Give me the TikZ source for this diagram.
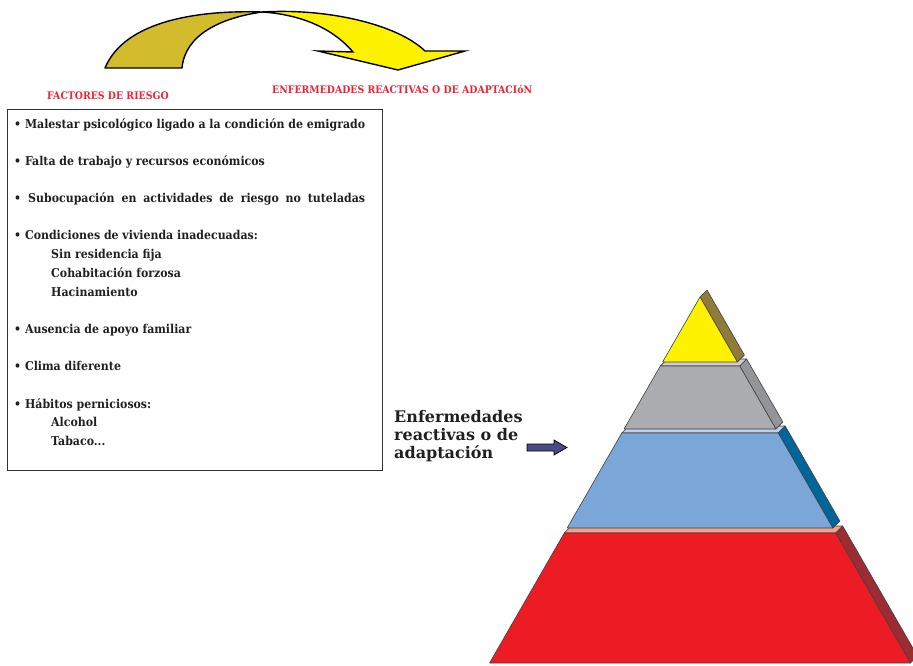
\documentclass[tikz,border=0pt]{standalone}
\usepackage{fontspec}
\setmainfont{DejaVu Serif}
\newfontfamily\condfont{DejaVu Serif Condensed}
\usetikzlibrary{positioning}

\definecolor{rojotit}{HTML}{EE2233}
\definecolor{oliva}{HTML}{D3BB2E}
\definecolor{amarillo}{HTML}{FFF200}
\definecolor{textogris}{HTML}{231F20}
\definecolor{flechaazul}{HTML}{4A4A8A}

\tikzset{
  titulo/.style={anchor=base west, inner sep=0pt, text=rojotit,
    font=\condfont\bfseries\fontsize{10.4}{12}\selectfont},
  punto/.style={anchor=base west, inner sep=0pt, text=textogris,
    font=\condfont\bfseries\fontsize{12.2}{14}\selectfont},
  capa/.style={draw=black!75, line width=0.6pt, line join=round},
}

\newlength\anchofila

\begin{document}
\begin{tikzpicture}[x=1pt,y=-1pt]
\useasboundingbox (0,0) rectangle (913,665);

% flecha curva superior
\draw[fill=oliva, line width=1.4pt, line join=round]
  (105,68) .. controls (125,20) and (200,10) .. (262,12)
  .. controls (220,18) and (185,35) .. (182,68) -- cycle;
\draw[fill=amarillo, line width=1.4pt, line join=miter]
  (262,12) .. controls (330,8) and (398,25) .. (425,51)
  -- (465,51) -- (398,70) -- (318,51) -- (353,52)
  .. controls (330,25) and (295,14) .. (262,12) -- cycle;

\node[titulo] (factores) at (47,99) {FACTORES DE RIESGO};
\node[titulo] (enfermedades) at (272,93) {ENFERMEDADES REACTIVAS O DE ADAPTACIóN};

% recuadro de factores
\draw[line width=0.8pt, draw=black!80] (7,109) rectangle (382,470);
\node[punto] (f1) at (14,128) {• Malestar psicológico ligado a la condición de emigrado};
\node[punto] (f2) at (14,165) {• Falta de trabajo y recursos económicos};
\node[punto] (f3) at (14,202)
  {\settowidth{\anchofila}{• Malestar psicológico ligado a la condición de emigrado}%
   \makebox[\anchofila][s]{•\kern7pt Subocupación en actividades de riesgo no tuteladas}};
\node[punto] (f4) at (14,239) {• Condiciones de vivienda inadecuadas:};
\node[punto] (f4a) at (51,258) {Sin residencia fija};
\node[punto] (f4b) at (51,277) {Cohabitación forzosa};
\node[punto] (f4c) at (51,296) {Hacinamiento};
\node[punto] (f5) at (14,333) {• Ausencia de apoyo familiar};
\node[punto] (f6) at (14,370) {• Clima diferente};
\node[punto] (f7) at (14,408) {• Hábitos perniciosos:};
\node[punto] (f7a) at (51,426) {Alcohol};
\node[punto] (f7b) at (51,445) {Tabaco...};

% etiqueta y flecha hacia la piramide
\node[anchor=north west, inner sep=0pt, align=left, text=textogris,
  font=\bfseries\fontsize{16}{18}\selectfont] (reactivas) at (394,410)
  {Enfermedades\\reactivas o de\\adaptación};
\draw[fill=flechaazul, draw=black, line width=0.7pt, line join=miter]
  (527,444) -- (554,444) -- (554,440) -- (567,447.5) -- (554,455)
  -- (554,451) -- (527,451) -- cycle;

% piramide: ytop/ybot/frente/lado/cara superior
\foreach \yt/\yb/\cf/\cl/\cs in {%
    533/663/ED1C24/9D2B34/F4A287,
    433/528/7BA7D8/00669A/B9D0EE,
    366/429/ABACAF/939598/CDCED2,
    297/362/FFF200/8F7B3C/FFF200}{
  \pgfmathsetmacro\xlt{700-0.575*(\yt-297)}
  \pgfmathsetmacro\xrt{700+0.575*(\yt-297)}
  \pgfmathsetmacro\xlb{700-0.575*(\yb-297)}
  \pgfmathsetmacro\xrb{700+0.575*(\yb-297)}
  \definecolor{cs}{HTML}{\cs}
  \definecolor{cf}{HTML}{\cf}
  \definecolor{cl}{HTML}{\cl}
  \ifnum\yt>300
    \fill[cs, capa] (\xlt,\yt) -- (\xrt,\yt) -- (\xrt+7,\yt-7) -- (\xlt+7,\yt-7) -- cycle;
  \fi
  \fill[cl, capa] (\xrt,\yt) -- (\xrb,\yb) -- (\xrb+7,\yb-7) -- (\xrt+7,\yt-7) -- cycle;
  \fill[cf, capa] (\xlt,\yt) -- (\xrt,\yt) -- (\xrb,\yb) -- (\xlb,\yb) -- cycle;
}
\end{tikzpicture}
\end{document}
